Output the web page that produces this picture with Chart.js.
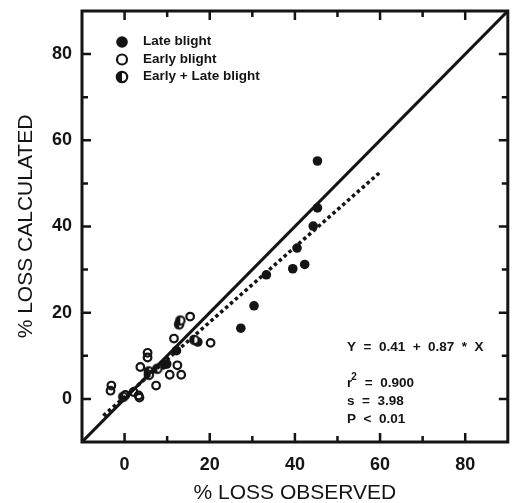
<!DOCTYPE html>
<html>
<head>
<meta charset="utf-8">
<script src="https://cdn.jsdelivr.net/npm/chart.js@4.4.0/dist/chart.umd.min.js"></script>
<style>
  html, body { margin: 0; padding: 0; background: #fff; }
  canvas { display: block; }
</style>
</head>
<body>
<canvas id="lossChart" width="514" height="503"></canvas>
<script>
// values (% loss observed vs % loss calculated)
const lateX = [45.3, 45.3, 44.3, 40.5, 42.3, 39.5, 33.3, 30.4, 27.3, 17.2, 12.2, 9.1, 9.9];
const lateY = [55.2, 44.3, 40.1, 35.0, 31.2, 30.2, 28.8, 21.6, 16.4, 13.2, 11.2, 7.9, 8.1];

const earlyX = [15.4, 11.6, 20.2, 5.4, 5.4, 3.7, 12.4, 10.6, 13.3, 7.4, -3.1, -3.3, 3.3, 3.5, 0.2, 2.1];
const earlyY = [19.1, 14.0, 13.0, 10.7, 9.6, 7.4, 7.8, 5.6, 5.6, 3.1, 3.1, 1.9, 0.8, 0.3, 0.9, 1.6];

const bothX = [12.8, 13.1, 5.7, 5.7, -0.3, 7.7, 16.4];
const bothY = [17.3, 18.2, 6.4, 5.6, 0.5, 7.0, 13.7];

// 1:1 line and fitted line Y = 0.41 + 0.87 * X (end points)
const oneToOneX = [-10, 90];
const oneToOneY = [-10, 90];
const fitX = [-5, 60];
const fitY = [-3.9, 52.6];

const legendLabels = ['Late blight', 'Early blight', 'Early + Late blight'];
const statLines = ['Y  =  0.41  +  0.87  *  X', '0.900', 's  =  3.98', 'P  <  0.01'];

const INK = '#141414';
const FONT = '"Liberation Sans", Arial, Helvetica, sans-serif';

const pts = (xs, ys) => xs.map((x, i) => ({ x: x, y: ys[i] }));

// half filled circle marker
function halfMarker(r) {
  const c = document.createElement('canvas');
  const s = Math.ceil(r * 2 + 4);
  c.width = s; c.height = s;
  const g = c.getContext('2d');
  const m = s / 2;
  g.fillStyle = '#fff';
  g.beginPath(); g.arc(m, m, r, 0, Math.PI * 2); g.fill();
  g.fillStyle = INK;
  g.beginPath(); g.arc(m, m, r, Math.PI / 2, Math.PI * 1.5); g.closePath(); g.fill();
  g.strokeStyle = INK; g.lineWidth = 2.2;
  g.beginPath(); g.arc(m, m, r - 0.6, 0, Math.PI * 2); g.stroke();
  return c;
}
const halfPt = halfMarker(4.8);
const halfLegend = halfMarker(5.8);

const framePlugin = {
  id: 'frame',
  afterDatasetsDraw(chart) {
    const { ctx, chartArea: a, scales } = chart;
    ctx.save();
    ctx.strokeStyle = INK;
    ctx.lineWidth = 3;
    ctx.strokeRect(a.left, a.top, a.right - a.left, a.bottom - a.top);

    // inward ticks on all four sides
    ctx.lineWidth = 2.5;
    for (let v = 0; v <= 80; v += 10) {
      const len = v % 20 === 0 ? 9 : 6;
      const px = scales.x.getPixelForValue(v);
      const py = scales.y.getPixelForValue(v);
      ctx.beginPath();
      ctx.moveTo(px, a.bottom); ctx.lineTo(px, a.bottom - len);
      ctx.moveTo(px, a.top); ctx.lineTo(px, a.top + len);
      ctx.moveTo(a.left, py); ctx.lineTo(a.left + len, py);
      ctx.moveTo(a.right, py); ctx.lineTo(a.right - len, py);
      ctx.stroke();
    }

    // legend
    const lx = 122, ly = [42, 59.5, 77];
    ctx.fillStyle = INK;
    ctx.beginPath(); ctx.arc(lx, ly[0], 5.8, 0, Math.PI * 2); ctx.fill();
    ctx.lineWidth = 2.2;
    ctx.beginPath(); ctx.arc(lx, ly[1], 5, 0, Math.PI * 2); ctx.stroke();
    ctx.drawImage(halfLegend, lx - halfLegend.width / 2, ly[2] - halfLegend.height / 2);
    ctx.font = 'bold 13.5px ' + FONT;
    ctx.textBaseline = 'middle';
    ctx.textAlign = 'left';
    legendLabels.forEach((t, i) => ctx.fillText(t, 143, ly[i] - 0.5));

    // regression statistics
    ctx.font = 'bold 13.5px ' + FONT;
    ctx.textBaseline = 'alphabetic';
    const sx = 347;
    ctx.fillText(statLines[0], sx, 351);
    ctx.fillText('r', sx, 387);
    const rw = ctx.measureText('r').width;
    ctx.font = 'bold 10px ' + FONT;
    ctx.fillText('2', sx + rw - 1, 380);
    ctx.font = 'bold 13.5px ' + FONT;
    ctx.fillText('  =  ' + statLines[1], sx + rw + 5, 387);
    ctx.fillText(statLines[2], sx, 405);
    ctx.fillText(statLines[3], sx, 423);
    ctx.restore();
  }
};

const noPad = (s) => {
  s.paddingTop = 0; s.paddingBottom = 0;
  s.paddingLeft = 0; s.paddingRight = 0;
};

const axisCommon = {
  min: -10,
  max: 90,
  grid: { display: false, drawTicks: false },
  border: { display: false },
  ticks: {
    stepSize: 10,
    color: INK,
    font: { family: FONT, size: 18, weight: 'bold' },
    callback: (v) => (v % 20 === 0 ? String(v) : '')
  }
};

new Chart(document.getElementById('lossChart'), {
  type: 'scatter',
  data: {
    datasets: [
      {
        label: '1:1',
        data: pts(oneToOneX, oneToOneY),
        showLine: true,
        borderColor: INK,
        borderWidth: 3,
        pointRadius: 0
      },
      {
        label: 'fit',
        data: pts(fitX, fitY),
        showLine: true,
        borderColor: INK,
        borderWidth: 3.5,
        borderDash: [3.5, 3],
        pointRadius: 0
      },
      {
        label: legendLabels[1],
        data: pts(earlyX, earlyY),
        pointRadius: 3.8,
        pointBorderWidth: 2.2,
        pointBackgroundColor: 'rgba(255,255,255,0)',
        pointBorderColor: INK
      },
      {
        label: legendLabels[2],
        data: pts(bothX, bothY),
        pointStyle: halfPt,
        pointRadius: 4.8
      },
      {
        label: legendLabels[0],
        data: pts(lateX, lateY),
        pointRadius: 4.8,
        pointBorderWidth: 0,
        pointBackgroundColor: INK,
        pointBorderColor: INK
      }
    ]
  },
  options: {
    responsive: false,
    animation: false,
    layout: { padding: { top: 11, right: 2, left: 0, bottom: 0 } },
    plugins: {
      legend: { display: false },
      tooltip: { enabled: false }
    },
    scales: {
      x: {
        ...axisCommon,
        ticks: { ...axisCommon.ticks, padding: 12, maxRotation: 0, autoSkip: false },
        title: {
          display: true,
          text: '% LOSS OBSERVED',
          color: INK,
          font: { family: FONT, size: 21 },
          padding: { top: 0, bottom: -3 }
        },
        afterFit: (s) => { s.height = 61; noPad(s); }
      },
      y: {
        ...axisCommon,
        ticks: { ...axisCommon.ticks, padding: 10, autoSkip: false },
        title: {
          display: true,
          text: '% LOSS CALCULATED',
          color: INK,
          font: { family: FONT, size: 21 },
          padding: { top: 14, bottom: 0 }
        },
        afterFit: (s) => { s.width = 82; noPad(s); }
      }
    }
  },
  plugins: [framePlugin]
});
</script>
</body>
</html>
